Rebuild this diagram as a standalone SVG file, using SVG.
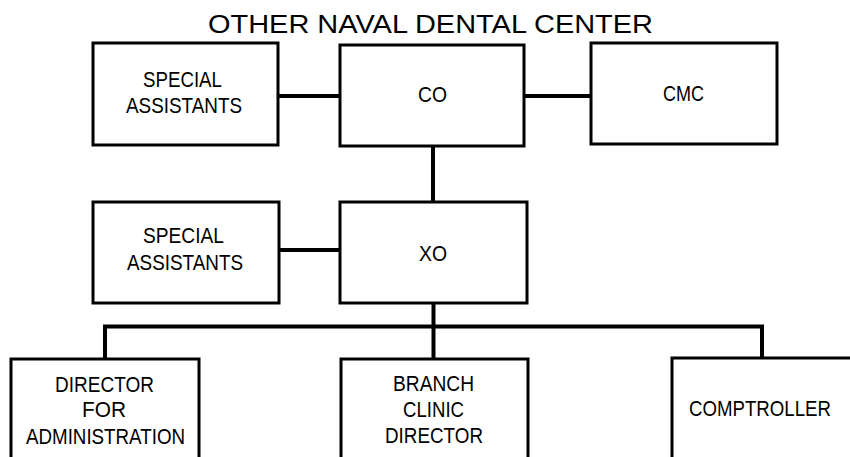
<svg xmlns="http://www.w3.org/2000/svg" width="850" height="457" viewBox="0 0 850 457">
<style>
.box{fill:#fff;stroke:#000;stroke-width:3}
.con{fill:none;stroke:#000;stroke-width:4}
text{font-family:"Liberation Sans",Arial,sans-serif;font-size:22px;fill:#000}
.title{font-size:26px}
</style>
<rect width="850" height="457" fill="#fff"/>
<text class="title" x="208" y="33" textLength="445" lengthAdjust="spacingAndGlyphs">OTHER NAVAL DENTAL CENTER</text>
<g id="connectors">
<path class="con" d="M278,96 H340"/>
<path class="con" d="M524,96 H591"/>
<path class="con" d="M433,146 V202"/>
<path class="con" d="M279,250 H340"/>
<path class="con" d="M433.5,303 V359"/>
<path class="con" d="M105,359 V326.5 H762 V358"/>
</g>
<g id="sa1">
<rect class="box" x="93" y="43" width="185" height="102"/>
<text x="143" y="87" textLength="79" lengthAdjust="spacingAndGlyphs">SPECIAL</text>
<text x="126" y="113" textLength="116" lengthAdjust="spacingAndGlyphs">ASSISTANTS</text>
</g>
<g id="co">
<rect class="box" x="340" y="45" width="184" height="101"/>
<text x="418" y="102" textLength="29" lengthAdjust="spacingAndGlyphs">CO</text>
</g>
<g id="cmc">
<rect class="box" x="591" y="43" width="186" height="101"/>
<text x="663" y="101" textLength="41" lengthAdjust="spacingAndGlyphs">CMC</text>
</g>
<g id="sa2">
<rect class="box" x="93" y="202" width="186" height="101"/>
<text x="143" y="243" textLength="81" lengthAdjust="spacingAndGlyphs">SPECIAL</text>
<text x="127" y="270" textLength="116" lengthAdjust="spacingAndGlyphs">ASSISTANTS</text>
</g>
<g id="xo">
<rect class="box" x="340" y="202" width="187" height="101"/>
<text x="419" y="261" textLength="28" lengthAdjust="spacingAndGlyphs">XO</text>
</g>
<g id="director">
<path class="box" d="M11,462 V359 H199 V462"/>
<text x="55" y="392" textLength="99" lengthAdjust="spacingAndGlyphs">DIRECTOR</text>
<text x="82" y="417" textLength="44" lengthAdjust="spacingAndGlyphs">FOR</text>
<text x="26" y="444" textLength="159" lengthAdjust="spacingAndGlyphs">ADMINISTRATION</text>
</g>
<g id="branch">
<path class="box" d="M341,462 V359 H528 V462"/>
<text x="393" y="391" textLength="81" lengthAdjust="spacingAndGlyphs">BRANCH</text>
<text x="403" y="417" textLength="61" lengthAdjust="spacingAndGlyphs">CLINIC</text>
<text x="385" y="443" textLength="98" lengthAdjust="spacingAndGlyphs">DIRECTOR</text>
</g>
<g id="comptroller">
<path class="box" d="M672,462 V358 H855"/>
<text x="689" y="416" textLength="142" lengthAdjust="spacingAndGlyphs">COMPTROLLER</text>
</g>
</svg>
